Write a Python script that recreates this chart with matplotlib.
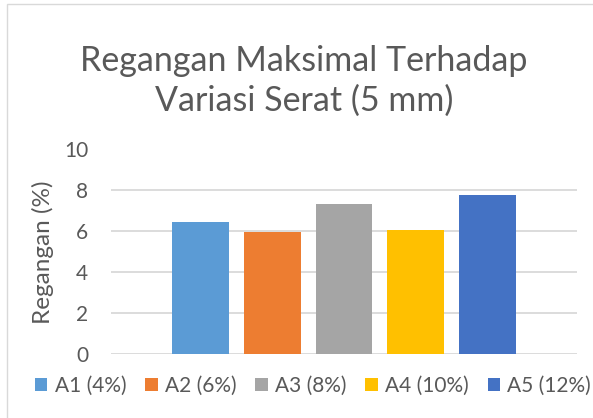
import matplotlib
matplotlib.use("Agg")
import matplotlib.pyplot as plt
from matplotlib.patches import Rectangle, Patch

series = ["A1 (4%)", "A2 (6%)", "A3 (8%)", "A4 (10%)", "A5 (12%)"]
values = [6.45, 5.95, 7.33, 6.08, 7.78]
colors = ["#5B9BD5", "#ED7D31", "#A5A5A5", "#FFC000", "#4472C4"]
yticks = [0, 2, 4, 6, 8, 10]
title = "Regangan Maksimal Terhadap\nVariasi Serat (5 mm)"
ylabel = "Regangan (%)"

plt.rcParams['font.family'] = ['Lato', 'DejaVu Sans']
W, H = 593, 418
fig = plt.figure(figsize=(W/100, H/100), dpi=100)
ax = fig.add_axes([111/W, 1 - 354/H, (577-111)/W, (354-149.5)/H])

pos = list(range(len(series)))
ax.bar(pos, values, width=0.795, color=colors, zorder=3)
ax.set_xlim(-1.25, 5.25)
ax.set_ylim(0, 10)
ax.set_yticks(yticks)
ax.set_xticks([])
ax.grid(axis='y', color='#d9d9d9', linewidth=1.3, zorder=0)
for s in ax.spines.values():
    s.set_visible(False)
ax.tick_params(axis='y', length=0, labelsize=15, labelcolor='#595959', pad=16.5)

fig.text(43/W, 1 - 252/H, ylabel, rotation=90, ha='center', va='center',
         fontsize=17.5, color='#595959')

fig.text(304/W, 1 - 81/H, title, ha='center', va='center', fontsize=24.5,
         color='#595959', linespacing=1.3)

handles = [Patch(facecolor=c, edgecolor='none') for c in colors]
fig.legend(handles, series, loc='center', bbox_to_anchor=(313/W, 1 - 386/H),
           ncol=5, frameon=False, fontsize=15, handlelength=0.6, handleheight=0.6,
           handletextpad=0.35, columnspacing=0.9, labelcolor='#595959')

fig.patches.append(Rectangle((7/W, -0.1), 1.2, 1 - 4/H + 0.1, transform=fig.transFigure,
                             fill=False, edgecolor='#d9d9d9', linewidth=1.0))

fig.savefig("out.png", dpi=100)
